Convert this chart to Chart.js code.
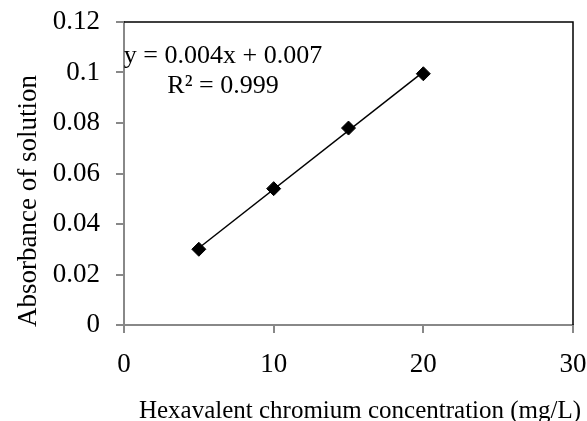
<!DOCTYPE html>
<html>
<head>
    <meta charset="utf-8" />
    <title>Hexavalent chromium calibration</title>
    <script src="https://cdn.jsdelivr.net/npm/chart.js"></script>
    <style>
        html, body { margin: 0; padding: 0; background: #fff; }
        #wrap { width: 587px; height: 421px; }
    </style>
</head>
<body>
    <div id="wrap"><canvas id="grafico" width="587" height="421"></canvas></div>
    <script>
        // datos
        var concentraciones = [5, 10, 15, 20];
        var absorbancias = [0.030, 0.054, 0.078, 0.0995];
        var xTickLabels = ['0', '10', '20', '30'];
        var yTickLabels = ['0', '0.02', '0.04', '0.06', '0.08', '0.1', '0.12'];
        var ecuacion = 'y = 0.004x + 0.007';
        var rCuadrado = 'R\u00B2 = 0.999';
        var tituloX = 'Hexavalent chromium concentration (mg/L)';
        var tituloY = 'Absorbance of solution';

        // linea de tendencia (minimos cuadrados sobre los puntos)
        var n = concentraciones.length, sx = 0, sy = 0, sxx = 0, sxy = 0;
        for (var i = 0; i < n; i++) {
            sx += concentraciones[i]; sy += absorbancias[i];
            sxx += concentraciones[i] * concentraciones[i];
            sxy += concentraciones[i] * absorbancias[i];
        }
        var pendiente = (n * sxy - sx * sy) / (n * sxx - sx * sx);
        var intercepto = (sy - pendiente * sx) / n;
        var xMin = Math.min.apply(null, concentraciones), xMax = Math.max.apply(null, concentraciones);
        var tendencia = [
            { x: xMin, y: intercepto + pendiente * xMin },
            { x: xMax, y: intercepto + pendiente * xMax }
        ];

        var fuente = 'Liberation Serif, Times New Roman, serif';

        // marco superior/derecho, ecuacion y titulos de ejes
        var extras = {
            id: 'extras',
            afterDraw: function (chart) {
                var c = chart.ctx, a = chart.chartArea;
                c.save();
                c.strokeStyle = '#000';
                c.lineWidth = 1.5;
                c.beginPath();
                c.moveTo(a.left, a.top);
                c.lineTo(a.right, a.top);
                c.lineTo(a.right, a.bottom);
                c.stroke();

                c.fillStyle = '#000';
                c.font = '26px ' + fuente;
                c.textAlign = 'center';
                c.textBaseline = 'alphabetic';
                c.fillText(ecuacion, a.left + 99, a.top + 41);
                c.fillText(rCuadrado, a.left + 99, a.top + 71);

                c.font = '25px ' + fuente;
                c.fillText(tituloX, 360, 418);

                c.font = '27px ' + fuente;
                c.translate(36, 201);
                c.rotate(-Math.PI / 2);
                c.fillText(tituloY, 0, 0);
                c.restore();
            }
        };

        var ctx = document.getElementById('grafico').getContext('2d');
        var grafico = new Chart(ctx, {
            type: 'scatter',
            data: {
                datasets: [
                    {
                        label: 'Absorbancia',
                        data: concentraciones.map(function (x, i) { return { x: x, y: absorbancias[i] }; }),
                        pointStyle: 'rectRot',
                        pointRadius: 7,
                        backgroundColor: '#000',
                        borderColor: '#000',
                        borderWidth: 1,
                        order: 1
                    },
                    {
                        label: 'Tendencia',
                        type: 'line',
                        data: tendencia,
                        borderColor: '#000',
                        borderWidth: 1.5,
                        pointRadius: 0,
                        fill: false,
                        order: 2
                    }
                ]
            },
            options: {
                responsive: false,
                animation: false,
                layout: { padding: { left: 0, right: 14, top: 22, bottom: 0 } },
                plugins: {
                    legend: { display: false },
                    tooltip: { enabled: false }
                },
                scales: {
                    x: {
                        type: 'linear',
                        min: 0,
                        max: 30,
                        ticks: {
                            stepSize: 10,
                            padding: 16,
                            color: '#000',
                            font: { family: fuente, size: 27 },
                            callback: function (v, idx) { return xTickLabels[idx]; }
                        },
                        grid: { drawOnChartArea: false, tickLength: 8, color: '#888', lineWidth: 2 },
                        border: { color: '#888', width: 2 },
                        afterFit: function (s) { s.height = 96; s.paddingLeft = 0; s.paddingRight = 0; }
                    },
                    y: {
                        min: 0,
                        max: 0.12,
                        ticks: {
                            stepSize: 0.02,
                            padding: 16,
                            color: '#000',
                            font: { family: fuente, size: 27 },
                            callback: function (v, idx) { return yTickLabels[idx]; }
                        },
                        grid: { drawOnChartArea: false, tickLength: 8, color: '#888', lineWidth: 2 },
                        border: { color: '#888', width: 2 },
                        afterFit: function (s) { s.width = 124; s.paddingTop = 0; s.paddingBottom = 0; }
                    }
                }
            },
            plugins: [extras]
        });
    </script>
</body>
</html>
